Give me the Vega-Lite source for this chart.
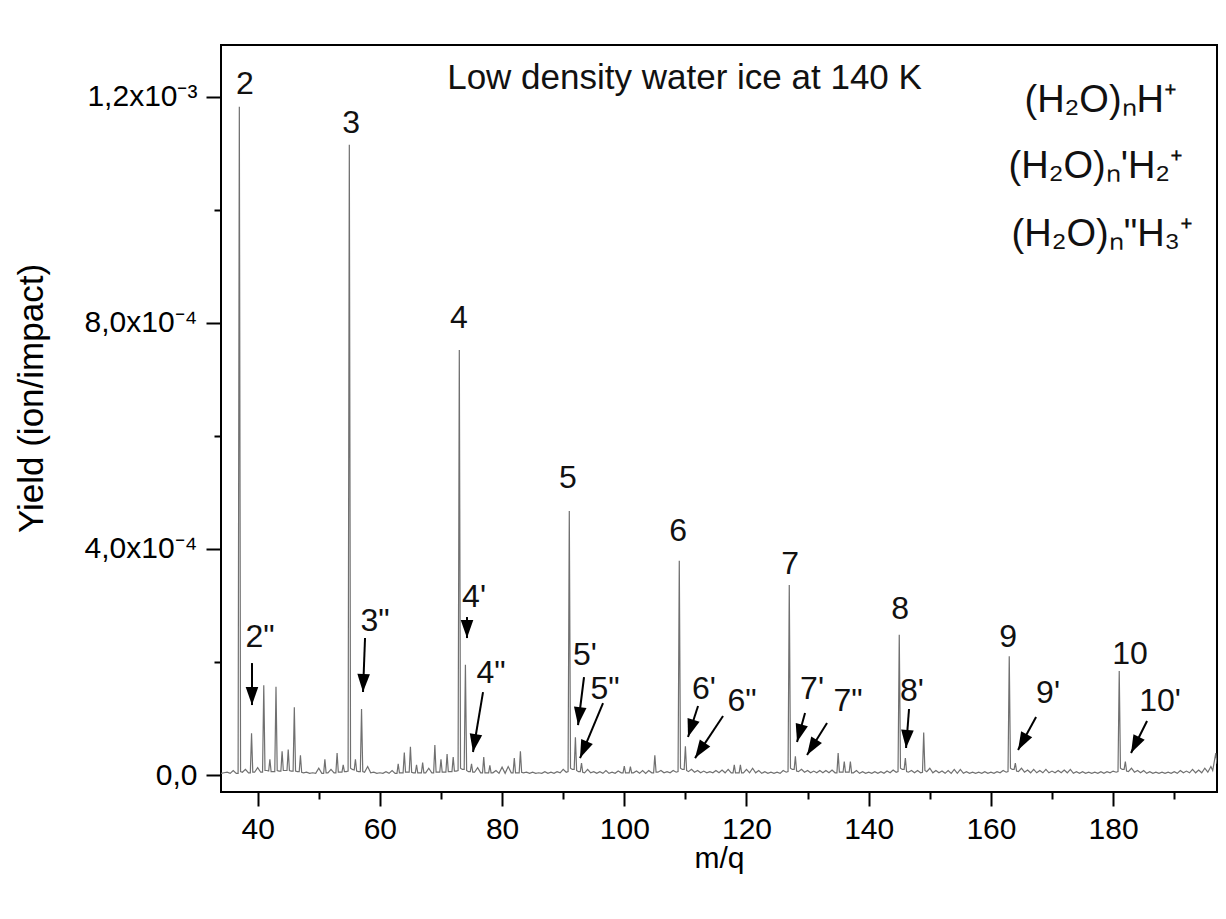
{
"$schema": "https://vega.github.io/schema/vega-lite/v6.json",
"width": 996, "height": 747,
"autosize": {"type": "none"},
"padding": {"left": 221, "top": 45, "right": 9, "bottom": 127},
"background": "white",
"config": {
  "font": "Liberation Sans",
  "view": {"stroke": "#000", "strokeWidth": 2},
  "axis": {"domain": false, "grid": false, "labelFont": "Liberation Sans", "titleFont": "Liberation Sans", "labelColor": "#000", "titleColor": "#000", "tickColor": "#000", "tickWidth": 2, "titleFontWeight": "normal"}
},
"datasets": {
"spectrum": [
{"m":34,"y":3e-6},{"m":34.5,"y":4e-6},{"m":35,"y":5e-6},{"m":35.5,"y":3e-6},{"m":36,"y":8e-6},{"m":36.5,"y":3e-6},
{"m":36.8,"y":3e-6},{"m":37,"y":1.182e-3},{"m":37.2,"y":6e-6},{"m":37.5,"y":5e-6},
{"m":38,"y":1.0e-5},{"m":38.5,"y":4e-6},
{"m":38.8,"y":4e-6},{"m":39,"y":7.4e-5},{"m":39.2,"y":5e-6},{"m":39.5,"y":5e-6},
{"m":40,"y":1.3e-5},{"m":40.5,"y":5e-6},
{"m":40.8,"y":5e-6},{"m":41,"y":1.59e-4},{"m":41.2,"y":8e-6},{"m":41.5,"y":8e-6},
{"m":41.8,"y":7e-6},{"m":42,"y":2.8e-5},{"m":42.2,"y":6e-6},{"m":42.5,"y":6e-6},
{"m":42.8,"y":6e-6},{"m":43,"y":1.56e-4},{"m":43.2,"y":8e-6},{"m":43.5,"y":7e-6},
{"m":43.8,"y":7e-6},{"m":44,"y":4.2e-5},{"m":44.2,"y":8e-6},{"m":44.5,"y":8e-6},
{"m":44.8,"y":8e-6},{"m":45,"y":4.5e-5},{"m":45.2,"y":8e-6},{"m":45.5,"y":7e-6},
{"m":45.8,"y":7e-6},{"m":46,"y":1.2e-4},{"m":46.2,"y":7e-6},{"m":46.5,"y":6e-6},
{"m":46.8,"y":6e-6},{"m":47,"y":3.5e-5},{"m":47.2,"y":5e-6},{"m":47.5,"y":4e-6},
{"m":48,"y":5e-6},{"m":48.5,"y":3e-6},{"m":49,"y":4e-6},{"m":49.5,"y":3e-6},
{"m":50,"y":1.2e-5},{"m":50.5,"y":3e-6},
{"m":50.8,"y":3e-6},{"m":51,"y":2.8e-5},{"m":51.2,"y":4e-6},{"m":51.5,"y":4e-6},
{"m":52,"y":1.0e-5},{"m":52.5,"y":4e-6},
{"m":52.8,"y":4e-6},{"m":53,"y":3.9e-5},{"m":53.2,"y":5e-6},{"m":53.5,"y":5e-6},
{"m":53.8,"y":5e-6},{"m":54,"y":1.8e-5},{"m":54.2,"y":6e-6},{"m":54.5,"y":6e-6},
{"m":54.8,"y":7e-6},{"m":55,"y":1.115e-3},{"m":55.2,"y":1.2e-5},{"m":55.5,"y":1e-5},
{"m":55.8,"y":9e-6},{"m":56,"y":2.8e-5},{"m":56.2,"y":7e-6},{"m":56.5,"y":6e-6},
{"m":56.8,"y":6e-6},{"m":57,"y":1.17e-4},{"m":57.2,"y":6e-6},{"m":57.5,"y":5e-6},
{"m":58,"y":1.5e-5},{"m":58.5,"y":4e-6},{"m":59,"y":5e-6},{"m":59.5,"y":3e-6},
{"m":60,"y":4e-6},{"m":60.5,"y":3e-6},{"m":61,"y":6e-6},{"m":61.5,"y":3e-6},
{"m":62,"y":8e-6},{"m":62.5,"y":3e-6},
{"m":62.8,"y":3e-6},{"m":63,"y":2.0e-5},{"m":63.2,"y":4e-6},{"m":63.5,"y":4e-6},
{"m":63.8,"y":4e-6},{"m":64,"y":4.0e-5},{"m":64.2,"y":5e-6},{"m":64.5,"y":5e-6},
{"m":64.8,"y":5e-6},{"m":65,"y":5.0e-5},{"m":65.2,"y":5e-6},{"m":65.5,"y":4e-6},
{"m":65.8,"y":4e-6},{"m":66,"y":1.8e-5},{"m":66.2,"y":4e-6},{"m":66.5,"y":4e-6},
{"m":66.8,"y":4e-6},{"m":67,"y":2.2e-5},{"m":67.2,"y":4e-6},{"m":67.5,"y":4e-6},
{"m":68,"y":1.2e-5},{"m":68.5,"y":4e-6},
{"m":68.8,"y":4e-6},{"m":69,"y":5.3e-5},{"m":69.2,"y":5e-6},{"m":69.5,"y":5e-6},
{"m":69.8,"y":5e-6},{"m":70,"y":2.8e-5},{"m":70.2,"y":5e-6},{"m":70.5,"y":5e-6},
{"m":70.8,"y":5e-6},{"m":71,"y":3.7e-5},{"m":71.2,"y":6e-6},{"m":71.5,"y":6e-6},
{"m":71.8,"y":6e-6},{"m":72,"y":3.2e-5},{"m":72.2,"y":7e-6},{"m":72.5,"y":7e-6},
{"m":72.8,"y":8e-6},{"m":73,"y":7.52e-4},{"m":73.2,"y":1.2e-5},{"m":73.5,"y":1e-5},
{"m":73.8,"y":1e-5},{"m":74,"y":1.95e-4},{"m":74.2,"y":8e-6},{"m":74.5,"y":6e-6},
{"m":74.8,"y":6e-6},{"m":75,"y":2.0e-5},{"m":75.2,"y":5e-6},{"m":75.5,"y":5e-6},
{"m":76,"y":1.3e-5},{"m":76.5,"y":4e-6},
{"m":76.8,"y":4e-6},{"m":77,"y":3.2e-5},{"m":77.2,"y":4e-6},{"m":77.5,"y":4e-6},
{"m":77.8,"y":4e-6},{"m":78,"y":1.7e-5},{"m":78.2,"y":4e-6},{"m":78.5,"y":4e-6},
{"m":79,"y":8e-6},{"m":79.5,"y":3e-6},{"m":80,"y":1.4e-5},{"m":80.5,"y":3e-6},
{"m":81,"y":1.5e-5},{"m":81.5,"y":4e-6},
{"m":81.8,"y":4e-6},{"m":82,"y":3.0e-5},{"m":82.2,"y":4e-6},{"m":82.5,"y":4e-6},
{"m":82.8,"y":4e-6},{"m":83,"y":4.2e-5},{"m":83.2,"y":5e-6},{"m":83.5,"y":4e-6},
{"m":84,"y":5e-6},{"m":84.5,"y":3e-6},{"m":85,"y":5e-6},{"m":85.5,"y":3e-6},
{"m":86,"y":4e-6},{"m":86.5,"y":3e-6},{"m":87,"y":6e-6},{"m":87.5,"y":3e-6},
{"m":88,"y":5e-6},{"m":88.5,"y":3e-6},{"m":89,"y":6e-6},{"m":89.5,"y":4e-6},
{"m":90,"y":1.0e-5},{"m":90.5,"y":5e-6},
{"m":90.8,"y":6e-6},{"m":91,"y":4.67e-4},{"m":91.2,"y":1.2e-5},{"m":91.5,"y":1e-5},
{"m":91.8,"y":1e-5},{"m":92,"y":6.7e-5},{"m":92.2,"y":8e-6},{"m":92.5,"y":6e-6},
{"m":92.8,"y":6e-6},{"m":93,"y":2.1e-5},{"m":93.2,"y":5e-6},{"m":93.5,"y":4e-6},
{"m":94,"y":1.0e-5},{"m":94.5,"y":4e-6},{"m":95,"y":6e-6},{"m":95.5,"y":3e-6},
{"m":96,"y":6e-6},{"m":96.5,"y":3e-6},{"m":97,"y":8e-6},{"m":97.5,"y":3e-6},
{"m":98,"y":5e-6},{"m":98.5,"y":3e-6},{"m":99,"y":7e-6},{"m":99.5,"y":4e-6},
{"m":99.8,"y":4e-6},{"m":100,"y":1.6e-5},{"m":100.2,"y":4e-6},{"m":100.5,"y":4e-6},
{"m":100.8,"y":4e-6},{"m":101,"y":1.5e-5},{"m":101.2,"y":4e-6},{"m":101.5,"y":4e-6},
{"m":102,"y":7e-6},{"m":102.5,"y":3e-6},{"m":103,"y":8e-6},{"m":103.5,"y":3e-6},
{"m":104,"y":8e-6},{"m":104.5,"y":4e-6},
{"m":104.8,"y":4e-6},{"m":105,"y":3.5e-5},{"m":105.2,"y":5e-6},{"m":105.5,"y":5e-6},
{"m":106,"y":8e-6},{"m":106.5,"y":4e-6},{"m":107,"y":6e-6},{"m":107.5,"y":4e-6},
{"m":108,"y":8e-6},{"m":108.5,"y":5e-6},
{"m":108.8,"y":6e-6},{"m":109,"y":3.79e-4},{"m":109.2,"y":1.2e-5},{"m":109.5,"y":1e-5},
{"m":109.8,"y":1e-5},{"m":110,"y":5.1e-5},{"m":110.2,"y":8e-6},{"m":110.5,"y":6e-6},
{"m":111,"y":1.0e-5},{"m":111.5,"y":5e-6},{"m":112,"y":8e-6},{"m":112.5,"y":4e-6},
{"m":113,"y":7e-6},{"m":113.5,"y":4e-6},{"m":114,"y":6e-6},{"m":114.5,"y":4e-6},
{"m":115,"y":8e-6},{"m":115.5,"y":4e-6},{"m":116,"y":9e-6},{"m":116.5,"y":4e-6},
{"m":117,"y":1.0e-5},{"m":117.5,"y":4e-6},
{"m":117.8,"y":4e-6},{"m":118,"y":1.8e-5},{"m":118.2,"y":4e-6},{"m":118.5,"y":4e-6},
{"m":118.8,"y":4e-6},{"m":119,"y":1.8e-5},{"m":119.2,"y":4e-6},{"m":119.5,"y":4e-6},
{"m":120,"y":1.0e-5},{"m":120.5,"y":4e-6},{"m":121,"y":1.2e-5},{"m":121.5,"y":4e-6},
{"m":122,"y":8e-6},{"m":122.5,"y":3e-6},{"m":123,"y":6e-6},{"m":123.5,"y":3e-6},
{"m":124,"y":5e-6},{"m":124.5,"y":3e-6},{"m":125,"y":5e-6},{"m":125.5,"y":3e-6},
{"m":126,"y":8e-6},{"m":126.5,"y":5e-6},
{"m":126.8,"y":6e-6},{"m":127,"y":3.36e-4},{"m":127.2,"y":1.2e-5},{"m":127.5,"y":1e-5},
{"m":127.8,"y":1e-5},{"m":128,"y":3.3e-5},{"m":128.2,"y":7e-6},{"m":128.5,"y":6e-6},
{"m":129,"y":1.0e-5},{"m":129.5,"y":5e-6},{"m":130,"y":8e-6},{"m":130.5,"y":4e-6},
{"m":131,"y":7e-6},{"m":131.5,"y":4e-6},{"m":132,"y":8e-6},{"m":132.5,"y":4e-6},
{"m":133,"y":8e-6},{"m":133.5,"y":4e-6},{"m":134,"y":9e-6},{"m":134.5,"y":4e-6},
{"m":134.8,"y":4e-6},{"m":135,"y":3.9e-5},{"m":135.2,"y":5e-6},{"m":135.5,"y":5e-6},
{"m":135.8,"y":5e-6},{"m":136,"y":2.4e-5},{"m":136.2,"y":5e-6},{"m":136.5,"y":5e-6},
{"m":136.8,"y":5e-6},{"m":137,"y":2.4e-5},{"m":137.2,"y":4e-6},{"m":137.5,"y":4e-6},
{"m":138,"y":8e-6},{"m":138.5,"y":3e-6},{"m":139,"y":6e-6},{"m":139.5,"y":3e-6},
{"m":140,"y":5e-6},{"m":140.5,"y":3e-6},{"m":141,"y":6e-6},{"m":141.5,"y":3e-6},
{"m":142,"y":6e-6},{"m":142.5,"y":3e-6},{"m":143,"y":7e-6},{"m":143.5,"y":4e-6},
{"m":144,"y":9e-6},{"m":144.5,"y":5e-6},
{"m":144.8,"y":6e-6},{"m":145,"y":2.48e-4},{"m":145.2,"y":1.2e-5},{"m":145.5,"y":1e-5},
{"m":145.8,"y":1e-5},{"m":146,"y":3.0e-5},{"m":146.2,"y":6e-6},{"m":146.5,"y":5e-6},
{"m":147,"y":8e-6},{"m":147.5,"y":4e-6},{"m":148,"y":8e-6},{"m":148.5,"y":4e-6},
{"m":148.8,"y":5e-6},{"m":149,"y":7.5e-5},{"m":149.2,"y":8e-6},{"m":149.5,"y":6e-6},
{"m":150,"y":1.2e-5},{"m":150.5,"y":4e-6},{"m":151,"y":8e-6},{"m":151.5,"y":4e-6},
{"m":152,"y":7e-6},{"m":152.5,"y":3e-6},{"m":153,"y":8e-6},{"m":153.5,"y":3e-6},
{"m":154,"y":1.0e-5},{"m":154.5,"y":3e-6},{"m":155,"y":1.0e-5},{"m":155.5,"y":3e-6},
{"m":156,"y":6e-6},{"m":156.5,"y":3e-6},{"m":157,"y":5e-6},{"m":157.5,"y":3e-6},
{"m":158,"y":5e-6},{"m":158.5,"y":3e-6},{"m":159,"y":6e-6},{"m":159.5,"y":3e-6},
{"m":160,"y":5e-6},{"m":160.5,"y":3e-6},{"m":161,"y":6e-6},{"m":161.5,"y":4e-6},
{"m":162,"y":8e-6},{"m":162.5,"y":5e-6},
{"m":162.8,"y":6e-6},{"m":163,"y":2.1e-4},{"m":163.2,"y":1.2e-5},{"m":163.5,"y":1e-5},
{"m":163.8,"y":1e-5},{"m":164,"y":2.1e-5},{"m":164.2,"y":7e-6},{"m":164.5,"y":6e-6},
{"m":165,"y":1.2e-5},{"m":165.5,"y":5e-6},{"m":166,"y":9e-6},{"m":166.5,"y":4e-6},
{"m":167,"y":1.0e-5},{"m":167.5,"y":4e-6},{"m":168,"y":8e-6},{"m":168.5,"y":4e-6},
{"m":169,"y":1.0e-5},{"m":169.5,"y":4e-6},{"m":170,"y":7e-6},{"m":170.5,"y":4e-6},
{"m":171,"y":8e-6},{"m":171.5,"y":4e-6},{"m":172,"y":9e-6},{"m":172.5,"y":4e-6},
{"m":173,"y":1.0e-5},{"m":173.5,"y":3e-6},{"m":174,"y":6e-6},{"m":174.5,"y":3e-6},
{"m":175,"y":6e-6},{"m":175.5,"y":3e-6},{"m":176,"y":5e-6},{"m":176.5,"y":3e-6},
{"m":177,"y":5e-6},{"m":177.5,"y":3e-6},{"m":178,"y":6e-6},{"m":178.5,"y":3e-6},
{"m":179,"y":6e-6},{"m":179.5,"y":4e-6},{"m":180,"y":7e-6},{"m":180.5,"y":5e-6},
{"m":180.8,"y":6e-6},{"m":181,"y":1.84e-4},{"m":181.2,"y":1.2e-5},{"m":181.5,"y":1e-5},
{"m":181.8,"y":1e-5},{"m":182,"y":2.4e-5},{"m":182.2,"y":7e-6},{"m":182.5,"y":6e-6},
{"m":183,"y":1.2e-5},{"m":183.5,"y":5e-6},{"m":184,"y":8e-6},{"m":184.5,"y":4e-6},
{"m":185,"y":8e-6},{"m":185.5,"y":3e-6},{"m":186,"y":6e-6},{"m":186.5,"y":3e-6},
{"m":187,"y":5e-6},{"m":187.5,"y":3e-6},{"m":188,"y":5e-6},{"m":188.5,"y":3e-6},
{"m":189,"y":5e-6},{"m":189.5,"y":3e-6},{"m":190,"y":6e-6},{"m":190.5,"y":3e-6},
{"m":191,"y":8e-6},{"m":191.5,"y":4e-6},{"m":192,"y":7e-6},{"m":192.5,"y":4e-6},
{"m":193,"y":1.0e-5},{"m":193.5,"y":4e-6},{"m":194,"y":9e-6},{"m":194.5,"y":4e-6},
{"m":195,"y":1.2e-5},{"m":195.5,"y":5e-6},{"m":196,"y":1.5e-5},{"m":196.3,"y":8e-6},
{"m":196.8,"y":3.9e-5},{"m":197,"y":2.0e-5}
],
"labels": [
{"m":37.93,"y":1.2047e-3,"t":"2"},
{"m":55.28,"y":1.1357e-3,"t":"3"},
{"m":72.95,"y":7.907e-4,"t":"4"},
{"m":90.79,"y":5.077e-4,"t":"5"},
{"m":108.8,"y":4.139e-4,"t":"6"},
{"m":127.13,"y":3.556e-4,"t":"7"},
{"m":145.13,"y":2.76e-4,"t":"8"},
{"m":162.81,"y":2.264e-4,"t":"9"},
{"m":182.77,"y":1.964e-4,"t":"10"},
{"m":40.38,"y":2.264e-4,"t":"2\""},
{"m":59.2,"y":2.547e-4,"t":"3\""},
{"m":75.41,"y":2.972e-4,"t":"4'"},
{"m":78.19,"y":1.627e-4,"t":"4\""},
{"m":93.57,"y":1.946e-4,"t":"5'"},
{"m":96.85,"y":1.344e-4,"t":"5\""},
{"m":113.05,"y":1.344e-4,"t":"6'"},
{"m":119.27,"y":1.132e-4,"t":"6\""},
{"m":130.73,"y":1.344e-4,"t":"7'"},
{"m":136.62,"y":1.132e-4,"t":"7\""},
{"m":147.09,"y":1.309e-4,"t":"8'"},
{"m":169.35,"y":1.274e-4,"t":"9'"},
{"m":187.68,"y":1.132e-4,"t":"10'"}
],
"arrows": [
{"m":39.07,"y":1.981e-4,"m2":39.07,"y2":1.238e-4,"angle":0},
{"m":57.57,"y":2.423e-4,"m2":57.24,"y2":1.468e-4,"angle":2},
{"m":74.26,"y":2.795e-4,"m2":74.26,"y2":2.423e-4,"angle":0},
{"m":76.88,"y":1.468e-4,"m2":75.24,"y2":4.07e-5,"angle":9.5},
{"m":93.41,"y":1.734e-4,"m2":92.43,"y2":8.84e-5,"angle":7},
{"m":96.52,"y":1.274e-4,"m2":92.76,"y2":3.0e-5,"angle":22.7},
{"m":112.07,"y":1.221e-4,"m2":110.43,"y2":6.72e-5,"angle":17.9},
{"m":116.16,"y":1.044e-4,"m2":111.58,"y2":3.0e-5,"angle":33.7},
{"m":129.58,"y":1.097e-4,"m2":128.27,"y2":5.84e-5,"angle":15.4},
{"m":133.18,"y":9.2e-5,"m2":129.91,"y2":3.54e-5,"angle":32},
{"m":146.6,"y":1.168e-4,"m2":146.11,"y2":4.78e-5,"angle":4.4},
{"m":167.39,"y":1.026e-4,"m2":164.44,"y2":4.42e-5,"angle":28.6},
{"m":185.55,"y":9.55e-5,"m2":182.93,"y2":3.89e-5,"angle":26.6}
],
"title": [{"m":109.86,"y":1.2135e-3,"t":"Low density water ice at 140 K"}],
"formulas": [
{"m":190.46,"y":1.1728e-3,"t":"(H₂O)ₙH⁺"},
{"m":191.45,"y":1.0561e-3,"t":"(H₂O)ₙ'H₂⁺"},
{"m":193.08,"y":9.358e-4,"t":"(H₂O)ₙ\"H₃⁺"}
]
},
"layer": [
{
"data": {"name": "spectrum"},
"mark": {"type": "line", "color": "#707070", "strokeWidth": 1.2, "clip": true},
"encoding": {
"x": {"field": "m", "type": "quantitative", "title": "m/q", "scale": {"domain": [34, 197], "nice": false, "zero": false},
 "axis": {"values": [40,50,60,70,80,90,100,110,120,130,140,150,160,170,180,190],
  "labelExpr": "datum.value % 20 === 0 ? datum.label : ''",
  "tickSize": {"condition": {"test": "datum.value % 20 === 0", "value": 14}, "value": 7},
  "labelFontSize": 30, "labelPadding": 8, "labelFlush": false, "labelOverlap": false,
  "titleFontSize": 30, "titleX": 498, "titleY": 75, "titleBaseline": "alphabetic", "titleAlign": "center"}},
"y": {"field": "y", "type": "quantitative", "title": "Yield (ion/impact)", "scale": {"domain": [-3e-5, 1.2914e-3], "nice": false, "zero": false},
 "axis": {"values": [0, 0.0002, 0.0004, 0.0006, 0.0008, 0.001, 0.0012],
  "labelExpr": "abs(datum.value) < 1e-9 ? '0,0' : abs(datum.value - 0.0004) < 1e-9 ? '4,0x10⁻⁴' : abs(datum.value - 0.0008) < 1e-9 ? '8,0x10⁻⁴' : abs(datum.value - 0.0012) < 1e-9 ? '1,2x10⁻³' : ''",
  "tickSize": {"condition": {"test": "abs(datum.value/0.0004 - round(datum.value/0.0004)) < 1e-6", "value": 15}, "value": 7},
  "labelFontSize": 30, "labelPadding": 9, "labelFlush": false, "labelOverlap": false,
  "titleFontSize": 35, "titleX": -179, "titleY": 353, "titleAngle": 270, "titleBaseline": "alphabetic", "titleAlign": "center"}}
}
},
{
"data": {"name": "arrows"},
"mark": {"type": "rule", "color": "#000", "strokeWidth": 2},
"encoding": {
"x": {"field": "m", "type": "quantitative", "title": "m/q"},
"y": {"field": "y", "type": "quantitative", "title": "Yield (ion/impact)"},
"x2": {"field": "m2"},
"y2": {"field": "y2"}
}
},
{
"data": {"name": "arrows"},
"mark": {"type": "point", "shape": "M0,0L-0.7,-2L0.7,-2Z", "size": 324, "filled": true, "color": "#000", "opacity": 1, "strokeWidth": 0},
"encoding": {
"x": {"field": "m2", "type": "quantitative", "title": "m/q"},
"y": {"field": "y2", "type": "quantitative", "title": "Yield (ion/impact)"},
"angle": {"field": "angle", "type": "quantitative", "scale": null}
}
},
{
"data": {"name": "labels"},
"mark": {"type": "text", "font": "Liberation Sans", "fontSize": 32, "color": "#111", "align": "center", "baseline": "alphabetic"},
"encoding": {
"x": {"field": "m", "type": "quantitative", "title": "m/q"},
"y": {"field": "y", "type": "quantitative", "title": "Yield (ion/impact)"},
"text": {"field": "t"}
}
},
{
"data": {"name": "title"},
"mark": {"type": "text", "font": "Liberation Sans", "fontSize": 35, "color": "#111", "align": "center", "baseline": "alphabetic"},
"encoding": {
"x": {"field": "m", "type": "quantitative", "title": "m/q"},
"y": {"field": "y", "type": "quantitative", "title": "Yield (ion/impact)"},
"text": {"field": "t"}
}
},
{
"data": {"name": "formulas"},
"mark": {"type": "text", "font": "Liberation Sans", "fontSize": 38, "color": "#111", "align": "right", "baseline": "alphabetic"},
"encoding": {
"x": {"field": "m", "type": "quantitative", "title": "m/q"},
"y": {"field": "y", "type": "quantitative", "title": "Yield (ion/impact)"},
"text": {"field": "t"}
}
}
]
}
